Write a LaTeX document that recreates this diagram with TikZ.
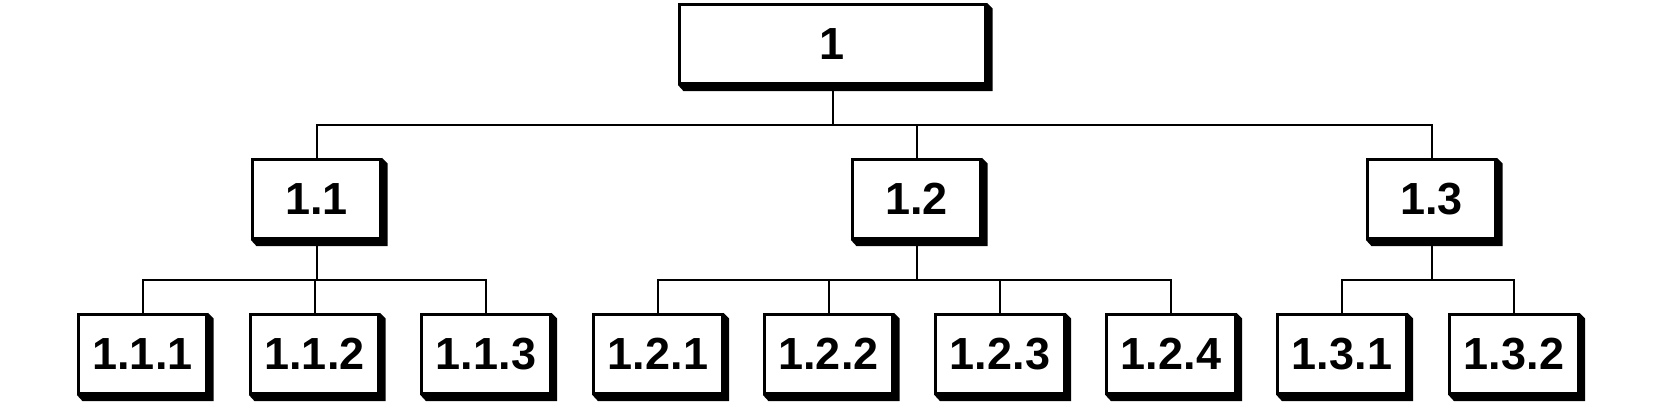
\documentclass[tikz,border=0pt]{standalone}
\usepackage{fontspec}
\setmainfont{Liberation Sans}
\usetikzlibrary{calc}
\tikzset{
  box/.style={draw=black, line width=2.6pt, fill=white, rectangle, inner sep=0pt,
    minimum width=128.5pt, minimum height=79.5pt,
    font=\fontsize{45}{45}\selectfont\bfseries},
  wide/.style={minimum width=306.5pt},
  conn/.style={draw=black, line width=2pt},
  shad/.style={fill=black}
}
\newcommand{\boxshadow}[1]{%
  \fill[shad] (#1.north east) -- ++(5.5,5.5) -- ($(#1.south east)+(5.5,6)$)
    -- ($(#1.south west)+(5.5,6)$) -- (#1.south west) -- (#1.south east) -- cycle;}
\begin{document}
\begin{tikzpicture}[x=1pt,y=-1pt]
\useasboundingbox (0,0) rectangle (1662,415);
% bus levels
\coordinate (b0) at (0,124.5);
\coordinate (b1) at (0,279.5);
% nodes
\node[box,wide] (n1) at (832.5,44) {1};
\node[box] (n11) at (316.5,199) {1.1};
\node[box] (n12) at (916.5,199) {1.2};
\node[box] (n13) at (1431.5,199) {1.3};
\node[box] (n111) at (142.5,354) {1.1.1};
\node[box] (n112) at (314.5,354) {1.1.2};
\node[box] (n113) at (486,354) {1.1.3};
\node[box] (n121) at (658,354) {1.2.1};
\node[box] (n122) at (828.5,354) {1.2.2};
\node[box] (n123) at (1000,354) {1.2.3};
\node[box] (n124) at (1171,354) {1.2.4};
\node[box] (n131) at (1342,354) {1.3.1};
\node[box] (n132) at (1514,354) {1.3.2};
% shadows
\foreach \n in {n1,n11,n12,n13,n111,n112,n113,n121,n122,n123,n124,n131,n132}{\boxshadow{\n}}
% connectors level 0 -> 1
\draw[conn] (n1.south) -- (n1.south |- b0);
\draw[conn] (n11.north) -- (n11.north |- b0) -- (n13.north |- b0) -- (n13.north);
\draw[conn] (n12.north) -- (n12.north |- b0);
% 1.1 children
\draw[conn] (n11.south) -- (n11.south |- b1);
\draw[conn] (n111.north) -- (n111.north |- b1) -- (n113.north |- b1) -- (n113.north);
\draw[conn] (n112.north) -- (n112.north |- b1);
% 1.2 children
\draw[conn] (n12.south) -- (n12.south |- b1);
\draw[conn] (n121.north) -- (n121.north |- b1) -- (n124.north |- b1) -- (n124.north);
\draw[conn] (n122.north) -- (n122.north |- b1);
\draw[conn] (n123.north) -- (n123.north |- b1);
% 1.3 children
\draw[conn] (n13.south) -- (n13.south |- b1);
\draw[conn] (n131.north) -- (n131.north |- b1) -- (n132.north |- b1) -- (n132.north);
\end{tikzpicture}
\end{document}
